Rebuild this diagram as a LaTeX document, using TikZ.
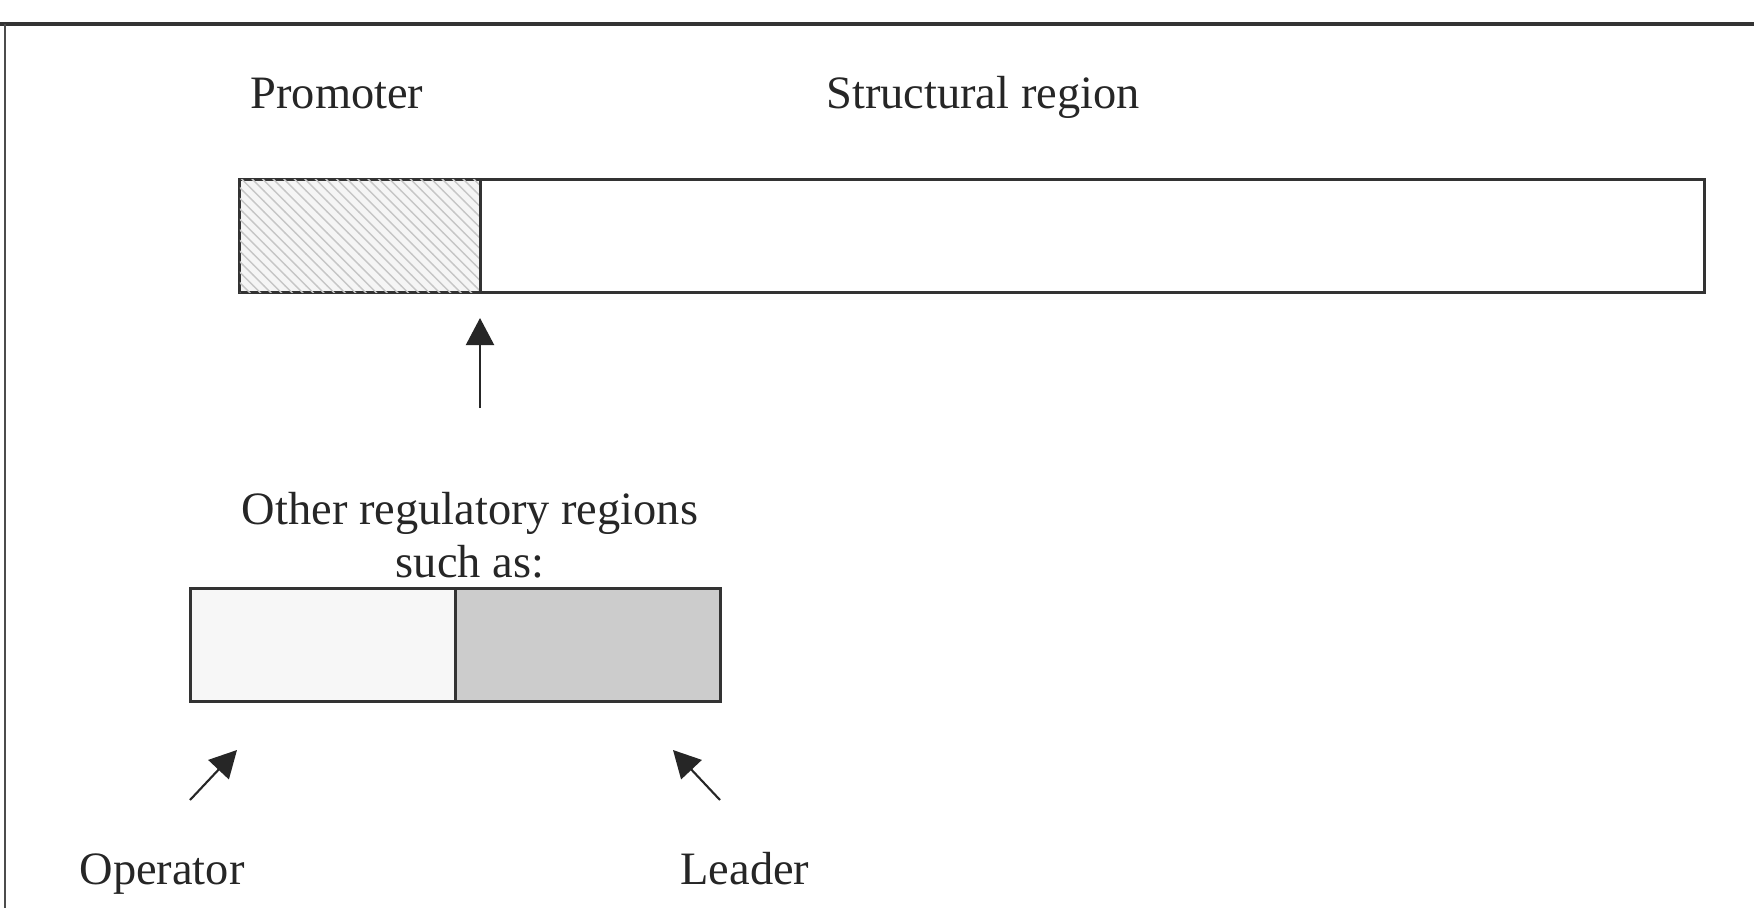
\documentclass[tikz,border=0pt]{standalone}
\usepackage{fontspec}
\setmainfont{Liberation Serif}
\usetikzlibrary{arrows.meta,patterns}
\tikzset{
  lbl/.style={inner sep=0pt, font=\fontsize{13.2}{15}\selectfont, text=black!85},
  box/.style={draw=black!80, line width=0.85pt, rectangle, inner sep=0pt, minimum height=1.12cm},
  arr/.style={draw=black!85, line width=0.6pt, -{Triangle[width=2.8mm,length=2.7mm]}},
}
\begin{document}
\begin{tikzpicture}[x=0.01cm,y=-0.01cm]
\useasboundingbox (0,0) rectangle (1754,908);
% frame
\draw[black!80, line width=1.1pt] (0,24) -- (1754,24);
\draw[black!70, line width=0.4pt] (5,24) -- (5,908);
% labels
\node[lbl, anchor=base] (tprom) at (337,108) {Promoter};
\node[lbl, anchor=base] (tstruct) at (983,108) {Structural region};
% main gene
\node[box, minimum width=2.41cm, fill=gray!8, postaction={pattern=north west lines, pattern color=gray!45}] (prom) at (360.5,236) {};
\node[box, minimum width=12.23cm, fill=white] (struct) at (1092.5,236) {};
% regulatory
\coordinate (uptail) at (480,408);
\coordinate (uptip) at (480,318);
\draw[arr] (uptail) -- (uptip);
\node[lbl, anchor=base, align=center] (treg) at (470,577) {Other regulatory regions\\such as:};
% small box
\node[box, minimum width=2.65cm, fill=gray!6] (oper) at (323.5,645) {};
\node[box, minimum width=2.64cm, fill=gray!40] (lead) at (588,645) {};
% lower arrows
\coordinate (otail) at (190,800);
\coordinate (otip) at (237,750);
\coordinate (ltail) at (720,800);
\coordinate (ltip) at (673,750);
\draw[arr] (otail) -- (otip);
\draw[arr] (ltail) -- (ltip);
\node[lbl, anchor=base] (toper) at (162,884) {Operator};
\node[lbl, anchor=base] (tlead) at (745,884) {Leader};
\end{tikzpicture}
\end{document}
